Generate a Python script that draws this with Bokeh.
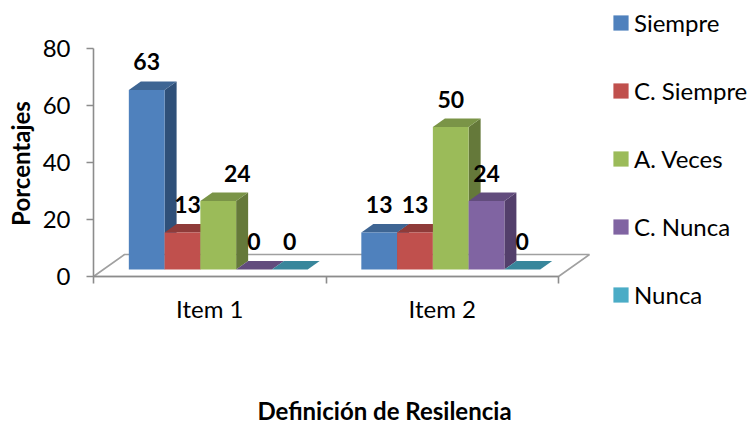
import math

from bokeh.core.properties import value
from bokeh.embed import file_html
from bokeh.models import ColumnDataSource, FixedTicker, Label, Legend, LegendItem, Range1d
from bokeh.plotting import figure
from bokeh.resources import INLINE

categories = ["Item 1", "Item 2"]
series = ["Siempre", "C. Siempre", "A. Veces", "C. Nunca", "Nunca"]
siempre = [63, 13]
c_siempre = [13, 13]
a_veces = [24, 50]
c_nunca = [0, 24]
nunca = [0, 0]
all_values = [siempre, c_siempre, a_veces, c_nunca, nunca]

front_colors = ["#4F81BD", "#C0504D", "#9BBB59", "#8064A2", "#4BACC6"]
top_colors = ["#3E6593", "#8F3B39", "#7A9447", "#624C7D", "#38869B"]
side_colors = ["#2F5079", "#7A3230", "#65793A", "#533F6B", "#2E6F80"]

FONT = "Lato"
AXIS_GRAY = "#8C8C8C"

# Plot scale: one category spans 232.5 px, one percent spans 2.85 px.
PX_X = 232.5
PX_Y = 2.85
ORIGIN_X, ORIGIN_Y = 93, 276
FLOOR_DX, FLOOR_DY = 31 / PX_X, 22 / PX_Y
BAR_DX, BAR_DY = 12 / PX_X, 8.5 / PX_Y
BASE_X, BASE_Y = 8.5 / PX_X, 7 / PX_Y
BAR_W = 1 / 6.5
GAP = 0.75 * BAR_W

# Horizontal nudges (category units) for labels moved off their bars.
label_nudge = {(0, 1): 5 / PX_X, (0, 2): 19 / PX_X}

p = figure(
    width=752, height=425, output_backend="svg", toolbar_location=None,
    x_range=Range1d(-ORIGIN_X / PX_X, (752 - ORIGIN_X) / PX_X),
    y_range=Range1d(-(425 - ORIGIN_Y) / PX_Y, ORIGIN_Y / PX_Y),
    min_border_left=0, min_border_right=0, min_border_top=0, min_border_bottom=0,
    outline_line_color=None, background_fill_color="white", border_fill_color="white",
)
p.grid.visible = False

# Floor of the chart box
p.patch(
    [0, FLOOR_DX, 2 + FLOOR_DX, 2], [0, FLOOR_DY, FLOOR_DY, 0],
    fill_color="white", line_color="#A0A0A0", line_width=1.6,
)

legend_items = []
for s, name in enumerate(series):
    vals = all_values[s]
    lefts = [c + BASE_X + GAP + s * BAR_W for c in range(len(categories))]
    rights = [x + BAR_W for x in lefts]
    tops = [BASE_Y + v for v in vals]
    bottoms = [BASE_Y] * len(vals)

    p.patches(
        [[r, r + BAR_DX, r + BAR_DX, r] for r in rights],
        [[b, b + BAR_DY, t + BAR_DY, t] for b, t in zip(bottoms, tops)],
        fill_color=side_colors[s], line_color=None,
    )
    p.patches(
        [[l, l + BAR_DX, r + BAR_DX, r] for l, r in zip(lefts, rights)],
        [[t, t + BAR_DY, t + BAR_DY, t] for t in tops],
        fill_color=top_colors[s], line_color=None,
    )
    bar = p.quad(left=lefts, right=rights, top=tops, bottom=bottoms,
                 fill_color=front_colors[s], line_color=None)
    legend_items.append(LegendItem(label=name, renderers=[bar]))

# Value labels, drawn after every bar so they sit on top
lx, ly, lt = [], [], []
for s, vals in enumerate(all_values):
    for c, v in enumerate(vals):
        lx.append(c + BASE_X + GAP + (s + 0.5) * BAR_W + label_nudge.get((c, s), 0))
        ly.append(BASE_Y + v + 28 / PX_Y)
        lt.append(str(v))
p.text(
    x="x", y="y", text="t", source=ColumnDataSource(dict(x=lx, y=ly, t=lt)),
    text_font=value(FONT), text_font_style="bold", text_font_size="23px",
    text_align="center", text_baseline="middle", text_color="black",
)

# Axes
xa = p.xaxis[0]
xa.fixed_location = 0
xa.bounds = (0, 2)
xa.ticker = FixedTicker(ticks=[0.5, 1.5], minor_ticks=[0, 1, 2])
xa.major_label_overrides = {0.5: categories[0], 1.5: categories[1]}
xa.major_tick_in = xa.major_tick_out = 0
xa.minor_tick_in = 0
xa.minor_tick_out = 7
xa.minor_tick_line_color = AXIS_GRAY
xa.minor_tick_line_width = 1.6
xa.axis_line_color = AXIS_GRAY
xa.axis_line_width = 1.6
xa.major_label_text_font = FONT
xa.major_label_text_font_size = "24px"
xa.major_label_text_color = "black"
xa.major_label_standoff = 10

ya = p.yaxis[0]
ya.fixed_location = 0
ya.bounds = (0, 80)
ya.ticker = FixedTicker(ticks=[0, 20, 40, 60, 80])
ya.major_tick_in = 0
ya.major_tick_out = 7
ya.minor_tick_in = ya.minor_tick_out = 0
ya.major_tick_line_color = AXIS_GRAY
ya.major_tick_line_width = 1.6
ya.axis_line_color = AXIS_GRAY
ya.axis_line_width = 1.6
ya.major_label_text_font = FONT
ya.major_label_text_font_size = "24px"
ya.major_label_text_color = "black"
ya.major_label_standoff = 16

# Axis titles placed in screen space, measured from the frame's bottom-left
p.add_layout(Label(
    x=20, y=425 - 163, x_units="screen", y_units="screen", angle=math.pi / 2,
    text="Porcentajes", text_font=FONT, text_font_style="bold",
    text_font_size="24px", text_align="center", text_baseline="middle",
    text_color="black",
))
p.add_layout(Label(
    x=384, y=425 - 410, x_units="screen", y_units="screen",
    text="Definición de Resilencia", text_font=FONT, text_font_style="bold",
    text_font_size="24px", text_align="center", text_baseline="middle",
    text_color="black",
))

legend = Legend(
    items=legend_items, location=(611, 116), orientation="vertical",
    glyph_width=19, glyph_height=19, spacing=39, margin=0, padding=0,
    label_height=15, label_standoff=4, label_text_font=FONT,
    label_text_font_size="24px", label_text_color="black",
    border_line_color=None, background_fill_alpha=0,
)
p.add_layout(legend)

open("out.html", "w").write(file_html(p, INLINE))
